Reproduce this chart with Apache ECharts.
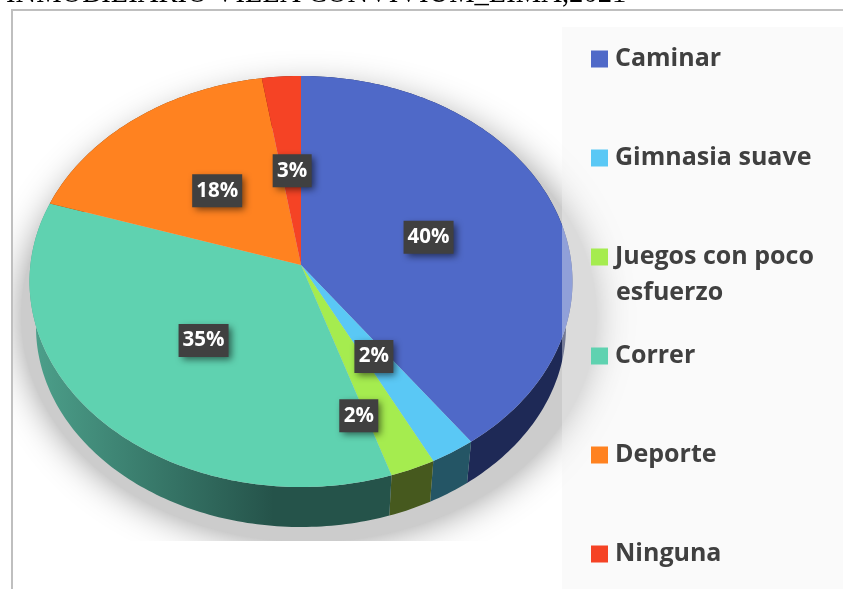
<!DOCTYPE html>
<html>
<head>
<meta charset="utf-8">
<style>html,body{margin:0;padding:0;background:#fff}#c{width:843px;height:589px}</style>
<script src="https://cdn.jsdelivr.net/npm/echarts@6/dist/echarts.min.js"></script>
</head>
<body>
<div id="c"></div>
<script>
const categories = ['Caminar', 'Gimnasia suave', 'Juegos con poco esfuerzo', 'Correr', 'Deporte', 'Ninguna'];
const counts = [16, 1, 1, 14, 7, 1];
const percentLabels = ['40%', '2%', '2%', '35%', '18%', '3%'];
const titleText = 'INMOBILIARIO VILLA CONVIVIUM_LIMA,2021';

const topColors = ['#4f69c8', '#5ac8f5', '#a5ec4f', '#5fd2b0', '#ff8220', '#f54325'];
const wallColors = ['#1e2956', '#245565', '#46591e', null, '#7a3e10', '#7a2012'];
const labelReach = [0.5, 0.5, 0.74, 0.5, 0.5, 0.5];
const labelNudge = [[2, 3], [-3, -2], [-25, 0], [4, -1], [-1, -1], [1, 0]];

const total = counts.reduce((a, b) => a + b, 0);
const apex = [301, 265], K = 0.0803, A = 270.6, B = 204.2;
const rimCx = 300.5, rimCy = 281.5, rimRx = 271.5, rimRy = 205.5;
const baseCy = 327, baseRx = 265, baseRy = 200;

function project(turn, reach) {
  const t = turn * 2 * Math.PI, u = Math.sin(t), v = Math.cos(t), w = 1 + K * v;
  return [apex[0] + reach * A * u / w, apex[1] - reach * B * v / w];
}
function toBase(p) {
  return [rimCx + (p[0] - rimCx) * baseRx / rimRx, baseCy + (p[1] - rimCy) * baseRy / rimRy];
}
function arc(from, to) {
  const pts = [], n = Math.max(4, Math.ceil((to - from) * 360));
  for (let i = 0; i <= n; i++) pts.push(project(from + (to - from) * i / n, 1));
  return pts;
}
function sliceRender(index) {
  const before = counts.slice(0, index).reduce((a, b) => a + b, 0);
  return function () {
    const from = before / total, to = (before + counts[index]) / total;
    const rim = arc(from, to);
    const wall = rim.concat(rim.map(toBase).reverse());
    const wallFill = wallColors[index] || {
      type: 'linear', global: true, x: 35, y: 0, x2: 300, y2: 0,
      colorStops: [
        { offset: 0, color: '#4c9f8a' },
        { offset: 0.45, color: '#38796a' },
        { offset: 0.9, color: '#25534a' },
        { offset: 1, color: '#25534a' }
      ]
    };
    const mid = project((from + to) / 2, labelReach[index]);
    const cx = mid[0] + labelNudge[index][0], cy = mid[1] + labelNudge[index][1];
    const text = percentLabels[index];
    const bw = text.length > 2 ? 50 : 39, bh = 33;
    return {
      type: 'group',
      children: [
        { type: 'polygon', z2: 1, shape: { points: wall }, style: { fill: wallFill } },
        { type: 'polygon', z2: 2, shape: { points: [apex].concat(rim) }, style: { fill: topColors[index] } },
        { type: 'rect', z2: 3, shape: { x: cx - bw / 2, y: cy - bh / 2, width: bw, height: bh },
          style: { fill: '#404040', shadowBlur: 7, shadowOffsetX: 3, shadowOffsetY: 3, shadowColor: 'rgba(0,0,0,0.55)' } },
        { type: 'text', z2: 4, x: cx, y: cy,
          style: { text: text, fill: '#fff', align: 'center', verticalAlign: 'middle',
            font: '700 20.5px "Open Sans"' } }
      ]
    };
  };
}

const chart = echarts.init(document.getElementById('c'), null, { renderer: 'canvas' });
chart.setOption({
  animation: false,
  backgroundColor: '#fff',
  title: {
    text: titleText, left: 6, top: -20, padding: 0,
    textStyle: { fontFamily: 'Liberation Serif', fontSize: 28.6, fontWeight: 'normal', color: '#000' }
  },
  legend: {
    data: categories,
    orient: 'vertical', left: 591, top: 44, padding: 0,
    icon: 'rect', itemWidth: 17, itemHeight: 17, itemGap: 69,
    formatter: n => n === categories[2] ? 'Juegos con poco' : n,
    selectedMode: false,
    textStyle: { fontFamily: 'Open Sans', fontSize: 25, fontWeight: 700, color: '#404040',
      lineHeight: 27, padding: [3, 0, 0, 2] }
  },
  graphic: { elements: [
    { type: 'ellipse', z: 0, silent: true, shape: { cx: 309, cy: 316, rx: 288, ry: 226 },
      style: { fill: '#cccccc', shadowBlur: 36, shadowColor: '#999999' } },
    { type: 'rect', z: 1, silent: true, shape: { x: 13, y: 541, width: 590, height: 48 }, style: { fill: '#fff' } },
    { type: 'rect', z: 1, silent: true, shape: { x: 0, y: 0, width: 11, height: 589 }, style: { fill: '#fff' } },
    { type: 'rect', z: 1, silent: true, shape: { x: 11, y: 9, width: 832, height: 2 }, style: { fill: '#bfbfbf' } },
    { type: 'rect', z: 1, silent: true, shape: { x: 11, y: 9, width: 2, height: 580 }, style: { fill: '#bfbfbf' } },
    { type: 'rect', z: 3, silent: true, shape: { x: 562, y: 27, width: 281, height: 562 }, style: { fill: 'rgba(242,242,242,0.4)' } },
    { type: 'text', z: 4, silent: true, x: 616, y: 293,
      style: { text: 'esfuerzo', fill: '#404040', align: 'left', verticalAlign: 'middle',
        font: '700 25px "Open Sans"' } }
  ] },
  series: categories.map((name, i) => ({
    type: 'custom', name: name, coordinateSystem: 'none', silent: true,
    itemStyle: { color: topColors[i] },
    data: [counts[i]],
    renderItem: sliceRender(i)
  }))
});
</script>
</body>
</html>
